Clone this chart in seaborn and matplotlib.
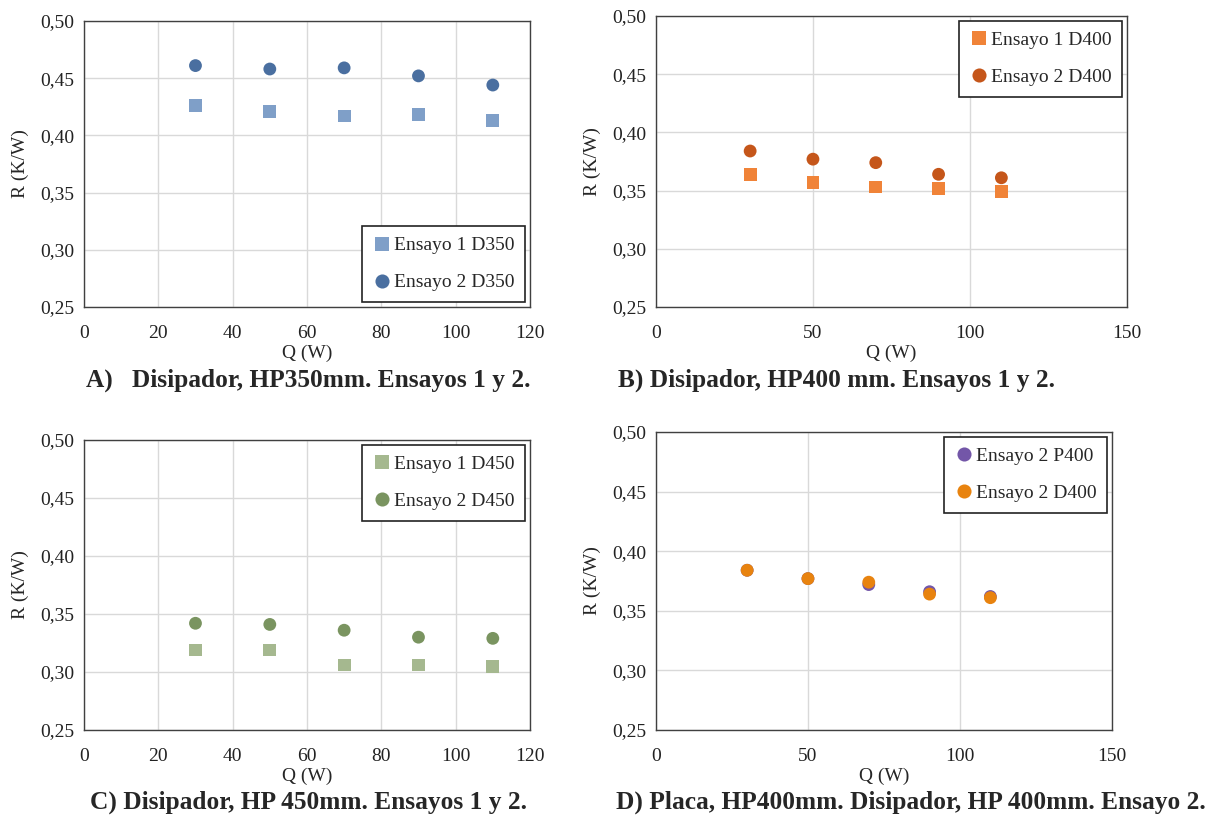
import matplotlib

matplotlib.use("Agg")
import matplotlib.pyplot as plt
import numpy as np
import pandas as pd
import seaborn as sns
from matplotlib.ticker import FuncFormatter, MultipleLocator

sns.set_theme(style="whitegrid")
plt.rcParams["font.family"] = ["Liberation Serif", "DejaVu Serif"]

Q_W = [30, 50, 70, 90, 110]

# Panel A - HP350
A_ENSAYO1 = [0.426, 0.421, 0.417, 0.418, 0.413]
A_ENSAYO2 = [0.461, 0.458, 0.459, 0.452, 0.444]
# Panel B - HP400
B_ENSAYO1 = [0.364, 0.357, 0.353, 0.352, 0.349]
B_ENSAYO2 = [0.384, 0.377, 0.374, 0.364, 0.361]
# Panel C - HP450
C_ENSAYO1 = [0.319, 0.319, 0.306, 0.306, 0.305]
C_ENSAYO2 = [0.342, 0.341, 0.336, 0.330, 0.329]
# Panel D - placa vs disipador
D_P400 = [0.384, 0.377, 0.372, 0.366, 0.362]
D_D400 = [0.384, 0.377, 0.374, 0.364, 0.361]

PANELS = [
    {
        "rect": [0.0694, 0.6238, 0.3686, 0.3505],
        "series": [("Ensayo 1 D350", A_ENSAYO1, "s", "#7F9FC8"),
                   ("Ensayo 2 D350", A_ENSAYO2, "o", "#4A6FA0")],
        "xmax": 120, "xstep": 20, "legend": "lower right",
        "title": "A)   Disipador, HP350mm. Ensayos 1 y 2.", "title_xy": (0.255, 0.534),
    },
    {
        "rect": [0.5421, 0.6238, 0.3893, 0.3566],
        "series": [("Ensayo 1 D400", B_ENSAYO1, "s", "#F08338"),
                   ("Ensayo 2 D400", B_ENSAYO2, "o", "#C5561A")],
        "xmax": 150, "xstep": 50, "legend": "upper right",
        "title": "B) Disipador, HP400 mm. Ensayos 1 y 2.", "title_xy": (0.691, 0.534),
    },
    {
        "rect": [0.0694, 0.1054, 0.3686, 0.3554],
        "series": [("Ensayo 1 D450", C_ENSAYO1, "s", "#A5B88F"),
                   ("Ensayo 2 D450", C_ENSAYO2, "o", "#7A9460")],
        "xmax": 120, "xstep": 20, "legend": "upper right",
        "title": "C) Disipador, HP 450mm. Ensayos 1 y 2.", "title_xy": (0.255, 0.017),
    },
    {
        "rect": [0.5421, 0.1054, 0.3769, 0.3652],
        "series": [("Ensayo 2 P400", D_P400, "o", "#7356A8"),
                   ("Ensayo 2 D400", D_D400, "o", "#E8830F")],
        "xmax": 150, "xstep": 50, "legend": "upper right",
        "title": "D) Placa, HP400mm. Disipador, HP 400mm. Ensayo 2.", "title_xy": (0.753, 0.017),
    },
]

fig = plt.figure(figsize=(12.1, 8.16), dpi=100)

for panel in PANELS:
    ax = fig.add_axes(panel["rect"])
    rows = []
    for name, vals, _, _ in panel["series"]:
        for q, r in zip(Q_W, vals):
            rows.append({"Q": q, "R": r, "serie": name})
    df = pd.DataFrame(rows)
    markers = {name: m for name, _, m, _ in panel["series"]}
    palette = {name: c for name, _, _, c in panel["series"]}
    sns.scatterplot(data=df, x="Q", y="R", hue="serie", style="serie",
                    markers=markers, palette=palette, s=85, linewidth=0,
                    ax=ax, zorder=3)

    ax.set_xlim(0, panel["xmax"])
    ax.set_ylim(0.25, 0.50)
    ax.xaxis.set_major_locator(MultipleLocator(panel["xstep"]))
    ax.yaxis.set_major_locator(MultipleLocator(0.05))
    ax.yaxis.set_major_formatter(FuncFormatter(lambda v, p: f"{v:.2f}".replace(".", ",")))
    ax.grid(True, color="#d9d9d9", linewidth=1.0)
    for sp in ax.spines.values():
        sp.set_color("#404040")
        sp.set_linewidth(1.0)
    ax.tick_params(axis="both", labelsize=14, length=0, colors="#222222")
    ax.tick_params(axis="x", pad=13)
    ax.tick_params(axis="y", pad=7)
    ax.set_xlabel("Q (W)", fontsize=14, labelpad=2)
    ax.set_ylabel("R (K/W)", fontsize=14, labelpad=8)

    leg = ax.legend(loc=panel["legend"], fontsize=14, frameon=True, fancybox=False,
                    edgecolor="#222222", framealpha=1, borderpad=0.55, labelspacing=1.0,
                    handletextpad=0.1, handlelength=1.0, borderaxespad=0.25, markerscale=1.1)
    leg.get_frame().set_linewidth(1.2)

    tx, ty = panel["title_xy"]
    fig.text(tx, ty, panel["title"], fontsize=18.3, fontweight="bold", ha="center", va="center")

fig.savefig("out.png", dpi=100)
